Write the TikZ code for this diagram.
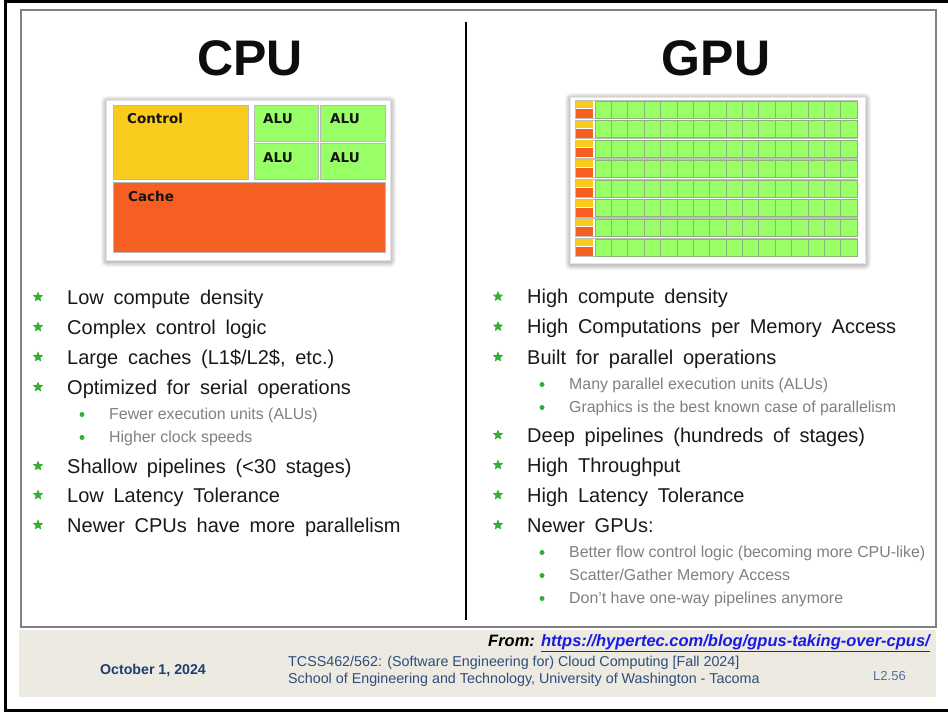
\documentclass[tikz,border=0pt]{standalone}
\usepackage{fontspec}
\setmainfont{Liberation Sans}
\newfontfamily\bodyfont{Liberation Sans}[WordSpace=1.75]
\newfontfamily\boxfont{DejaVu Sans}
\usetikzlibrary{shapes.geometric}
\definecolor{ctrlY}{HTML}{F8CB1C}
\definecolor{aluG}{HTML}{99FF66}
\definecolor{cacheO}{HTML}{F55F22}
\definecolor{starG}{HTML}{33B033}
\definecolor{subG}{HTML}{808080}
\definecolor{beigeF}{HTML}{ECEAE1}
\definecolor{navyF}{HTML}{1F3E6E}
\definecolor{footblue}{HTML}{2E4C7D}
\definecolor{pageblue}{HTML}{4F6F9F}
\definecolor{urlblue}{HTML}{1A1AE6}
\definecolor{cellEdge}{HTML}{8FB27A}
\newcommand\MainItem[4]{%
  \node[starb] (#1s) at (#2,#3-7) {};
  \node[maintxt] (#1) at (#2+29,#3) {#4};}
\newcommand\SubItem[4]{%
  \node[dotb] (#1d) at (#2,#3-4.5) {};
  \node[subtxt] (#1) at (#2+27,#3) {#4};}
\tikzset{
  maintxt/.style={anchor=base west, inner sep=0, text=black!90, font=\bodyfont\fontsize{20}{24}\selectfont},
  subtxt/.style={anchor=base west, inner sep=0, text=subG, font=\fontsize{15.9}{18}\selectfont},
  starb/.style={star, star points=5, star point ratio=2.2, fill=starG, inner sep=0, minimum size=11},
  dotb/.style={circle, fill=starG, inner sep=0, minimum size=5},
  cpubox/.style={draw=gray!55, line width=0.8, anchor=north west, inner sep=0},
  boxlbl/.style={anchor=base west, inner sep=0, text=black!92, font=\boxfont\bfseries\fontsize{13.5}{15}\selectfont},
  title/.style={anchor=base, inner sep=0, text=black!95, font=\bfseries\fontsize{50}{56}\selectfont},
  gcell/.style={draw=cellEdge, line width=0.6, fill=aluG},
}
\begin{document}
\begin{tikzpicture}[x=1pt,y=-1pt]
\useasboundingbox (0,0) rectangle (948,713);
\fill[white] (0,0) rectangle (948,713);
% frames
\draw[black, line width=3] (5.5,1) rectangle (952,710);
\fill[beigeF] (19,630) rectangle (936,697);
\draw[gray, line width=2] (21,10) rectangle (935.5,627);
\draw[black, line width=2] (466,22) -- (466,620);
% titles
\node[title] (cpuT) at (250,75) {CPU};
\node[title] (gpuT) at (716,75) {GPU};
% CPU diagram
\foreach \d in {1,...,6}
  \fill[black, opacity=0.045, rounded corners=\d] (106-\d+1,100-\d+2) rectangle (390+\d,260+\d+1);
\node[draw=gray!20, fill=white, anchor=north west, inner sep=0, minimum width=284, minimum height=160] (cpuFrame) at (106,100) {};
\node[cpubox, fill=ctrlY, minimum width=135, minimum height=74] (ctrl) at (113,105) {};
\node[cpubox, fill=aluG, minimum width=64, minimum height=36] (alu1) at (254,105) {};
\node[cpubox, fill=aluG, minimum width=65, minimum height=36] (alu2) at (320,105) {};
\node[cpubox, fill=aluG, minimum width=64, minimum height=36] (alu3) at (254,143) {};
\node[cpubox, fill=aluG, minimum width=65, minimum height=36] (alu4) at (320,143) {};
\node[cpubox, fill=cacheO, minimum width=272, minimum height=70] (cache) at (113,182) {};
\node[boxlbl] (ctrlL) at (127,123) {Control};
\node[boxlbl] (alu1L) at (263,123) {ALU};
\node[boxlbl] (alu2L) at (330,123) {ALU};
\node[boxlbl] (alu3L) at (263,162) {ALU};
\node[boxlbl] (alu4L) at (330,162) {ALU};
\node[boxlbl] (cacheL) at (128,201) {Cache};
% GPU diagram
\foreach \d in {1,...,6}
  \fill[black, opacity=0.045, rounded corners=\d] (570-\d+1,97-\d+2) rectangle (865+\d,263+\d+1);
\node[draw=gray!20, fill=white, anchor=north west, inner sep=0, minimum width=295, minimum height=166] (gpuFrame) at (570,97) {};
\foreach \r in {0,...,7}{
  \pgfmathsetmacro\yy{101+\r*19.7}
  \draw[gray!50, line width=0.6] (575.5,\yy-0.5) rectangle (857.5,\yy+17.5);
  \fill[ctrlY] (576,\yy) rectangle (593,\yy+7);
  \fill[cacheO] (576,\yy+8) rectangle (593,\yy+17);
  \foreach \c in {0,...,15}
    \draw[gcell] (595+\c*16.375,\yy) rectangle (595+\c*16.375+16.375,\yy+17);
}
% CPU list
\MainItem{c1}{38}{304}{Low compute density}
\MainItem{c2}{38}{334}{Complex control logic}
\MainItem{c3}{38}{364}{Large caches (L1\$/L2\$, etc.)}
\MainItem{c4}{38}{394}{Optimized for serial operations}
\SubItem{c5}{82}{419}{Fewer execution units (ALUs)}
\SubItem{c6}{82}{442}{Higher clock speeds}
\MainItem{c7}{38}{473}{Shallow pipelines (<30 stages)}
\MainItem{c8}{38}{502}{Low Latency Tolerance}
\MainItem{c9}{38}{532}{Newer CPUs have more parallelism}
% GPU list
\MainItem{g1}{498}{303.5}{High compute density}
\MainItem{g2}{498}{333.5}{High Computations per Memory Access}
\MainItem{g3}{498}{364}{Built for parallel operations}
\SubItem{g4}{542}{389}{Many parallel execution units (ALUs)}
\SubItem{g5}{542}{412}{Graphics is the best known case of parallelism}
\MainItem{g6}{498}{442}{Deep pipelines (hundreds of stages)}
\MainItem{g7}{498}{472}{High Throughput}
\MainItem{g8}{498}{502}{High Latency Tolerance}
\MainItem{g9}{498}{532}{Newer GPUs:}
\SubItem{g10}{542}{557}{Better flow control logic (becoming more CPU-like)}
\SubItem{g11}{542}{580}{Scatter/Gather Memory Access}
\SubItem{g12}{542}{603}{Don’t have one-way pipelines anymore}
% footer
\node[anchor=base east, inner sep=0, font=\bfseries\itshape\fontsize{16.5}{19}\selectfont] (from) at (930,646)
  {From: \textcolor{urlblue}{\underline{https://hypertec.com/blog/gpus-taking-over-cpus/}}};
\node[anchor=base, inner sep=0, text=navyF, font=\bfseries\fontsize{14.2}{16}\selectfont] (date) at (153,674) {October 1, 2024};
\node[anchor=base west, inner sep=0, text=footblue, font=\fontsize{14.3}{16}\selectfont] (course) at (288,666) {TCSS462/562: (Software Engineering for) Cloud Computing [Fall 2024]};
\node[anchor=base west, inner sep=0, text=footblue, font=\fontsize{14.3}{16}\selectfont] (school) at (288,683) {School of Engineering and Technology, University of Washington - Tacoma};
\node[anchor=base west, inner sep=0, text=pageblue, font=\fontsize{13}{15}\selectfont] (page) at (873,680) {L2.56};
\end{tikzpicture}
\end{document}
